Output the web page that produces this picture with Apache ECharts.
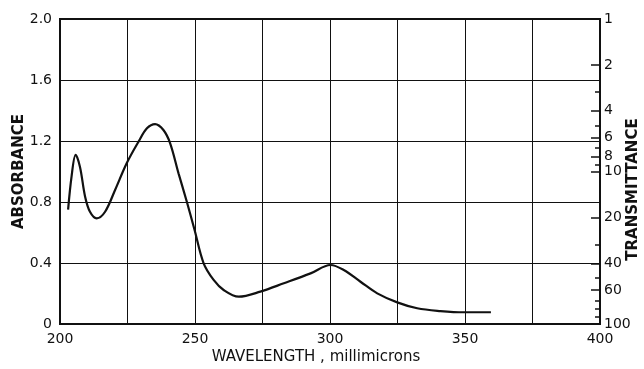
<!DOCTYPE html>
<html>
<head>
<meta charset="utf-8">
<script src="https://cdn.jsdelivr.net/npm/echarts@6/dist/echarts.min.js"></script>
<style>
  html, body { margin: 0; padding: 0; background: #fff; }
  #chart { width: 644px; height: 369px; }
</style>
</head>
<body>
<div id="chart"></div>
<script>
const FONT = "'DejaVu Sans', sans-serif"
const INK = '#111'

// absorption curve
const wavelength = [
  203, 204.3, 205.8, 207.4, 209.3, 211.1, 213.6, 216.7, 220.4, 224.7,
  229.1, 232.2, 235.2, 238.3, 240.8, 243.9, 247, 249.8, 253.2, 256.9,
  260.6, 266.2, 274.2, 282.9, 292.8, 300.2, 305.1, 311.3, 317.5, 324.9,
  332.3, 340.9, 349.6, 359.6,
]
const absorbance = [
  0.75, 0.97, 1.11, 1.03, 0.835, 0.736, 0.693, 0.736, 0.879, 1.054,
  1.196, 1.283, 1.311, 1.272, 1.185, 0.988, 0.80, 0.62, 0.398, 0.289,
  0.223, 0.179, 0.212, 0.267, 0.332, 0.387, 0.354, 0.277, 0.201, 0.142,
  0.103, 0.085, 0.077, 0.077,
]

// transmittance scale (percent) on the right
const transMajor = [1, 2, 4, 6, 8, 10, 20, 40, 60, 100]
const transMinor = [3, 5, 7, 9, 30, 50, 70, 80, 90]

const toAbs = t => 2 - Math.log10(t)

const chart = echarts.init(document.getElementById('chart'))

const rightAxisBase = {
  type: 'value',
  position: 'right',
  min: 0,
  max: 2,
  axisLine: { show: true, lineStyle: { color: INK, width: 2 } },
  splitLine: { show: false },
}

chart.setOption({
  animation: false,
  grid: {
    left: 60, right: 44, top: 19, bottom: 45,
    outerBoundsMode: 'none',
    show: true, borderColor: INK, borderWidth: 2,
  },
  xAxis: {
    type: 'value',
    min: 200,
    max: 400,
    interval: 25,
    name: 'WAVELENGTH , millimicrons',
    nameLocation: 'middle',
    nameGap: 26,
    nameMoveOverlap: false,
    nameTextStyle: { fontFamily: FONT, fontSize: 15, color: INK, padding: [0, 28, 0, 0] },
    axisLine: { lineStyle: { color: INK, width: 2 } },
    axisTick: { show: false },
    axisLabel: {
      fontFamily: FONT, fontSize: 14, color: INK, margin: 8,
      formatter: v => (v % 50 === 0 ? String(v) : ''),
    },
    splitLine: { show: true, lineStyle: { color: INK, width: 1 } },
  },
  yAxis: [
    {
      type: 'value',
      position: 'left',
      min: 0,
      max: 2,
      interval: 0.4,
      name: 'ABSORBANCE',
      nameLocation: 'middle',
      nameGap: 33,
      nameRotate: 90,
      nameMoveOverlap: false,
      nameTextStyle: { fontFamily: FONT, fontSize: 15, fontWeight: 'bold', color: INK },
      axisLine: { show: true, lineStyle: { color: INK, width: 2 } },
      axisTick: { show: false },
      axisLabel: {
        fontFamily: FONT, fontSize: 14, color: INK, margin: 8,
        formatter: v => (v === 0 ? '0' : v.toFixed(1)),
      },
      splitLine: { show: true, lineStyle: { color: INK, width: 1 } },
    },
    {
      ...rightAxisBase,
      name: 'TRANSMITTANCE',
      nameLocation: 'middle',
      nameGap: 26,
      nameRotate: 90,
      nameMoveOverlap: false,
      nameTextStyle: { fontFamily: FONT, fontSize: 15, fontWeight: 'bold', color: INK, padding: [0, 36, 0, 0] },
      axisTick: {
        show: true, inside: true, length: 9,
        lineStyle: { color: INK, width: 1.5 },
        customValues: transMajor.map(toAbs),
      },
      axisLabel: {
        show: true, inside: false, margin: 4,
        fontFamily: FONT, fontSize: 14, color: INK,
        customValues: transMajor.map(toAbs),
        formatter: v => String(Math.round(Math.pow(10, 2 - v))),
      },
    },
    {
      ...rightAxisBase,
      axisTick: {
        show: true, inside: true, length: 5,
        lineStyle: { color: INK, width: 1.5 },
        customValues: transMinor.map(toAbs),
      },
      axisLabel: { show: false },
    },
  ],
  series: [{
    type: 'line',
    data: wavelength.map((w, i) => [w, absorbance[i]]),
    smooth: 0.35,
    symbol: 'none',
    lineStyle: { color: INK, width: 2.2 },
  }],
})
</script>
</body>
</html>
